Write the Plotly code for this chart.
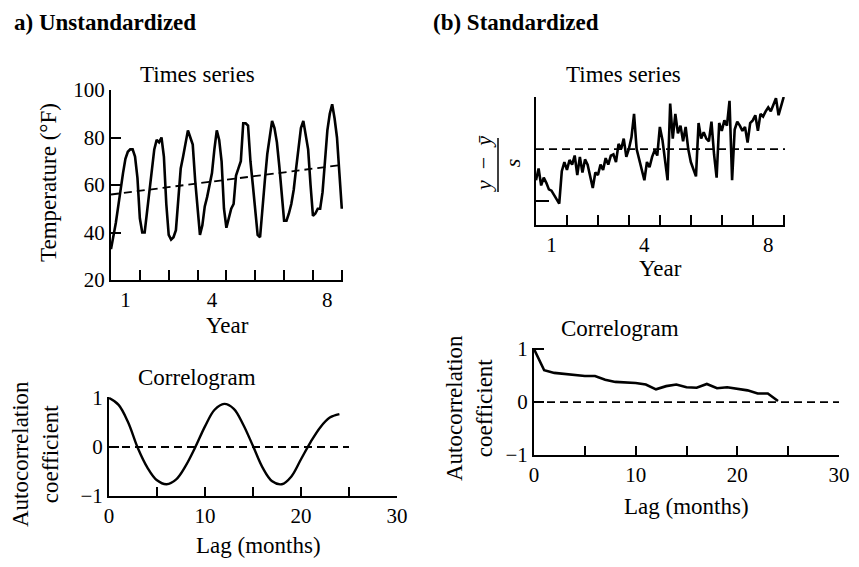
import plotly.graph_objects as go

# The page body has an 8 px margin; the figure is sized so it fits the window without scrolling.
OFF = 8
W, H = 843, 551
FONT = "Liberation Serif"

# ---------------- data ----------------
MONTHS = list(range(97))
TEMP_F = [33, 38, 44, 51, 59, 65, 71, 74, 75, 75, 72, 63, 46,
          40, 40, 49, 57, 66, 75, 79, 78, 80, 72, 52, 39,
          37, 38, 41, 55, 67, 72, 78, 83, 80, 77, 62, 50,
          39, 43, 51, 55, 60, 65, 75, 83, 79, 70, 50, 42,
          46, 50, 52, 64, 67, 70, 86, 86, 85, 70, 60, 48,
          39, 38, 52, 62, 73, 80, 87, 84, 78, 68, 57, 45,
          45, 48, 52, 58, 67, 76, 84, 87, 80, 75, 60, 47,
          48, 50, 50, 57, 70, 83, 90, 94, 88, 80, 65, 50]
TREND_MONTHS = [0, 96.5]
TREND_TEMPS = [56, 68.5]

STD_VALUES = [-1.2, -0.75, -1.4, -1.1, -1.3, -1.55, -1.6, -1.75, -1.9, -2.1, -0.85, -0.5, -0.8,
              -0.42, -0.6, -0.25, -1.0, -0.3, -0.9, -0.4, -0.6, -1.1, -1.5, -0.9, -1.0,
              -0.6, -0.8, -0.35, -0.6, -0.25, -0.2, -0.5, 0.2, 0.0, 0.4, -0.3, 0.0,
              0.45, 1.35, 0.0, -0.4, -0.7, -1.2, -0.5, -0.7, -0.3, -0.05, -0.25, 0.85,
              0.35, -0.4, -1.2, 1.75, 0.4, 1.35, 0.6, 0.9, 0.3, 0.85, 0.0, -0.5,
              -0.8, -1.05, 1.0, 0.4, 0.65, 0.4, 0.3, 1.05, -0.2, -1.1, 1.0, 0.7,
              1.1, 0.9, 1.85, -1.2, 0.75, 1.05, 0.9, 0.7, 0.85, 0.25, 1.0, 1.1,
              1.3, 0.7, 1.35, 1.25, 1.45, 1.6, 1.45, 1.7, 1.95, 1.3, 1.7, 2.0]
STD_MEAN_MONTHS = [0, 96.5]
STD_MEAN_VALUES = [0, 0]

LAGS = list(range(25))
ACF_UNSTD = [1.0, 0.86, 0.5, -0.02, -0.42, -0.68, -0.76, -0.66, -0.38, 0.0,
             0.42, 0.76, 0.88, 0.78, 0.45, 0.02, -0.42, -0.7, -0.76, -0.6,
             -0.25, 0.1, 0.4, 0.6, 0.67]
ACF_STD = [1.0, 0.6, 0.55, 0.53, 0.5, 0.49, 0.49, 0.42, 0.38, 0.37,
           0.36, 0.33, 0.24, 0.3, 0.33, 0.28, 0.27, 0.34, 0.26, 0.28,
           0.25, 0.22, 0.16, 0.16, 0.02]
ZERO_LAGS_A = [0, 25]
ZERO_LAGS_B = [0, 30]
ZERO_VALUES = [0, 0]

YEAR_LABEL_MONTHS = [6, 42, 90]
YEAR_LABELS = ["1", "4", "8"]
YEAR_BOUNDARY_MONTHS = [12, 24, 36, 48, 60, 72, 84, 96]
TEMP_TICKS = [20, 40, 60, 80, 100]
STD_TICKS = [-2, 2]
LAG_TICKS = [0, 5, 10, 15, 20, 25, 30]
LAG_LABELS = ["0", "", "10", "", "20", "", "30"]
ACF_TICKS = [-1, 0, 1]
ACF_LABELS = ["\u22121", "0", "1"]


def px(a):
    return (a - OFF) / W


def py(b):
    return 1 - (b - OFF) / H


def dx(a, b):
    return [px(a), px(b)]


def dy(top, bottom):
    return [py(bottom), py(top)]


fig = go.Figure()
solid = dict(color="black", width=2.6)
dashed = dict(color="black", width=1.8, dash="8px,5px")

fig.add_trace(go.Scatter(x=TREND_MONTHS, y=TREND_TEMPS, mode="lines", line=dashed, xaxis="x", yaxis="y"))
fig.add_trace(go.Scatter(x=MONTHS, y=TEMP_F, mode="lines", line=solid, xaxis="x", yaxis="y"))
fig.add_trace(go.Scatter(x=STD_MEAN_MONTHS, y=STD_MEAN_VALUES, mode="lines", line=dashed, xaxis="x2", yaxis="y2"))
fig.add_trace(go.Scatter(x=MONTHS, y=STD_VALUES, mode="lines", line=solid, xaxis="x2", yaxis="y2"))
fig.add_trace(go.Scatter(x=ZERO_LAGS_A, y=ZERO_VALUES, mode="lines", line=dashed, xaxis="x3", yaxis="y3"))
fig.add_trace(go.Scatter(x=LAGS, y=ACF_UNSTD, mode="lines", line=dict(color="black", width=2.4, shape="spline"),
                         xaxis="x3", yaxis="y3"))
fig.add_trace(go.Scatter(x=ZERO_LAGS_B, y=ZERO_VALUES, mode="lines", line=dashed, xaxis="x4", yaxis="y4"))
fig.add_trace(go.Scatter(x=LAGS, y=ACF_STD, mode="lines", line=solid, xaxis="x4", yaxis="y4"))

tickfont = dict(family=FONT, size=21, color="black")
base = dict(showline=True, linewidth=2, linecolor="black", showgrid=False, zeroline=False,
            tickfont=tickfont, fixedrange=True, automargin=False)

year_axis = dict(base, range=[0, 96.5], tickmode="array", tickvals=YEAR_LABEL_MONTHS,
                 ticktext=YEAR_LABELS, ticks="",
                 minor=dict(tickmode="array", tickvals=YEAR_BOUNDARY_MONTHS, ticks="inside",
                            ticklen=10, tickwidth=2, tickcolor="black", showgrid=False))
lag_axis = dict(base, range=[0, 30], tickmode="array", tickvals=LAG_TICKS, ticktext=LAG_LABELS,
                ticks="inside", ticklen=9, tickwidth=2, tickcolor="black")
acf_axis = dict(base, range=[-1, 1.02], tickmode="array", tickvals=ACF_TICKS, ticktext=ACF_LABELS,
                ticks="inside", ticklen=10, tickwidth=2, tickcolor="black")

fig.update_layout(
    width=W, height=H, margin=dict(l=0, r=0, t=0, b=0, autoexpand=False),
    paper_bgcolor="white", plot_bgcolor="white", showlegend=False,
    xaxis=dict(year_axis, domain=dx(111, 343), anchor="y"),
    yaxis=dict(base, domain=dy(90, 280), range=[20, 100], anchor="x", tickmode="array",
               tickvals=TEMP_TICKS, ticks="inside", ticklen=10, tickwidth=2, tickcolor="black"),
    xaxis2=dict(year_axis, domain=dx(536, 785), anchor="y2"),
    yaxis2=dict(base, domain=dy(97, 225), range=[-2.92, 2.0], anchor="x2", tickmode="array",
                tickvals=STD_TICKS, showticklabels=False, ticks="inside", ticklen=13,
                tickwidth=2, tickcolor="black"),
    xaxis3=dict(lag_axis, domain=dx(109, 397), anchor="y3"),
    yaxis3=dict(acf_axis, domain=dy(397, 496), anchor="x3"),
    xaxis4=dict(lag_axis, domain=dx(534, 839), anchor="y4"),
    yaxis4=dict(acf_axis, domain=dy(348, 455), anchor="x4"),
)


def ann(text, x, y, size=23, angle=0, bold=False, xanchor="center"):
    fig.add_annotation(text=f"<b>{text}</b>" if bold else text, x=px(x), y=py(y),
                       xref="paper", yref="paper", xanchor=xanchor, yanchor="middle",
                       showarrow=False, textangle=angle,
                       font=dict(family=FONT, size=size, color="black"))


ann("a) Unstandardized", 12, 22, size=23, bold=True, xanchor="left")
ann("(b) Standardized", 431, 22, size=23, bold=True, xanchor="left")
ann("Times series", 197, 75)
ann("Times series", 623, 75)
ann("Year", 227, 325)
ann("Year", 660, 268)
ann("Temperature (°F)", 48, 183, angle=-90)
ann("<i>y</i>\u2002\u2212\u2002<i>ȳ</i><br><i>s</i>", 498, 164, size=22, angle=-90)
ann("Correlogram", 197, 377)
ann("Correlogram", 620, 328)
ann("Autocorrelation<br>coefficient", 35, 454, angle=-90)
ann("Autocorrelation<br>coefficient", 469, 408, angle=-90)
ann("Lag (months)", 258, 545)
ann("Lag (months)", 686, 506)

fig.add_shape(type="line", xref="paper", yref="paper", x0=px(498), x1=px(498),
              y0=py(138), y1=py(192), line=dict(color="black", width=1.5))

fig.write_html("out.html")
